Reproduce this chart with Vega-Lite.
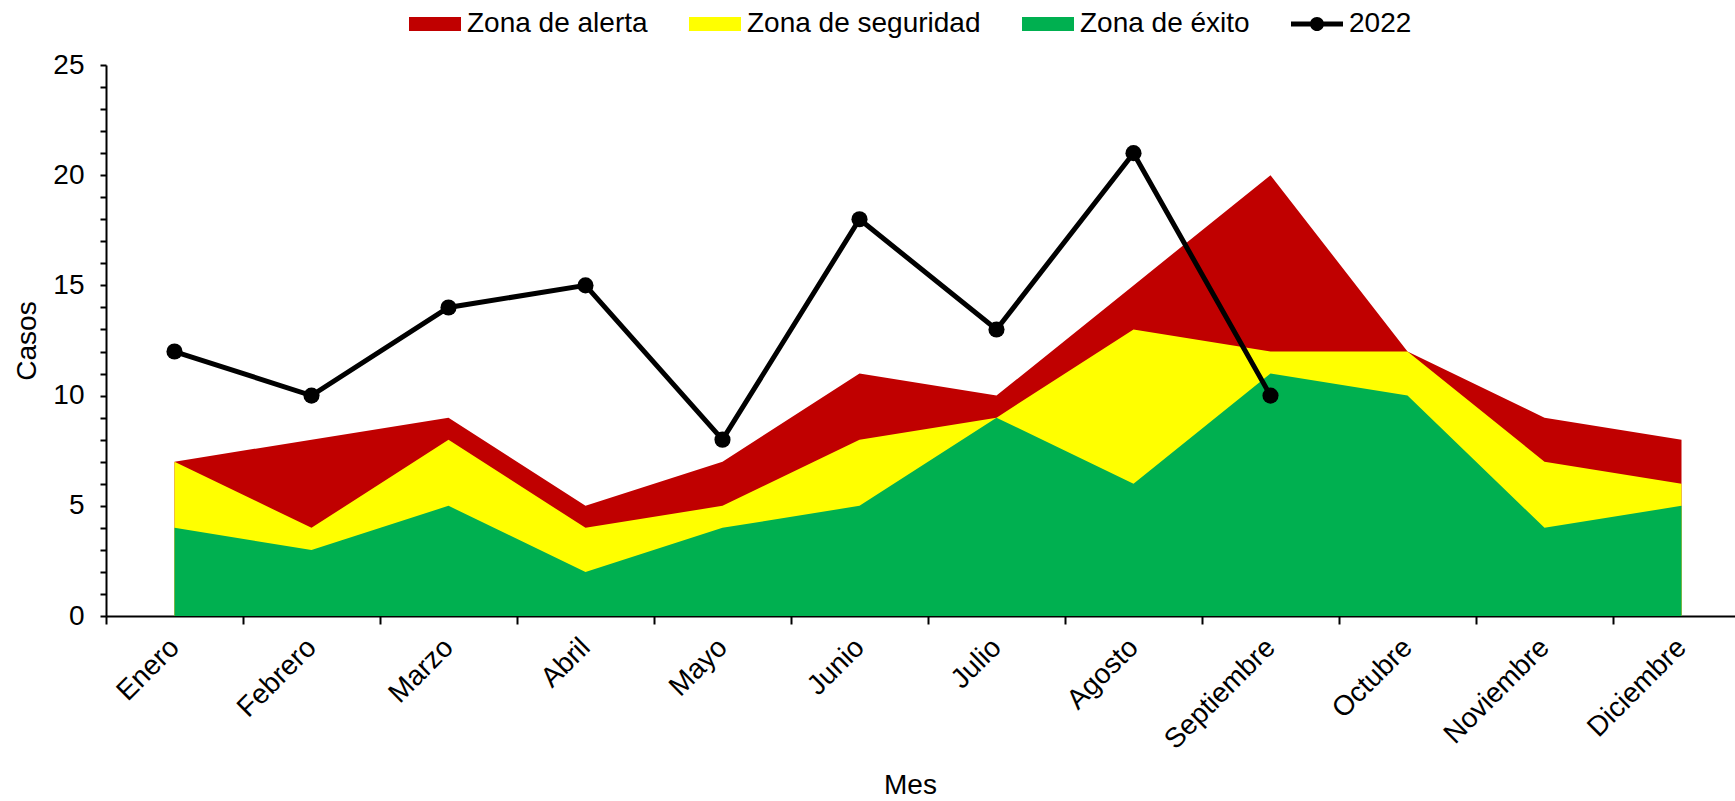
{
  "$schema": "https://vega.github.io/schema/vega-lite/v6.json",
  "width": 1644,
  "height": 551,
  "autosize": {"type": "none"},
  "padding": {"left": 106, "top": 65, "right": 0, "bottom": 185},
  "background": "white",
  "config": {
    "view": {"stroke": null},
    "font": "Liberation Sans",
    "axis": {"grid": false, "domainColor": "#000000", "tickColor": "#000000", "labelColor": "#000000", "titleColor": "#000000", "labelFont": "Liberation Sans", "titleFont": "Liberation Sans", "titleFontWeight": "normal"},
    "axisY": {"labelOverlap": false}
  },
  "data": {
    "values": [
      {"Mes": "Enero", "alerta": 7, "seguridad": 7, "exito": 4, "y2022": 12},
      {"Mes": "Febrero", "alerta": 8, "seguridad": 4, "exito": 3, "y2022": 10},
      {"Mes": "Marzo", "alerta": 9, "seguridad": 8, "exito": 5, "y2022": 14},
      {"Mes": "Abril", "alerta": 5, "seguridad": 4, "exito": 2, "y2022": 15},
      {"Mes": "Mayo", "alerta": 7, "seguridad": 5, "exito": 4, "y2022": 8},
      {"Mes": "Junio", "alerta": 11, "seguridad": 8, "exito": 5, "y2022": 18},
      {"Mes": "Julio", "alerta": 10, "seguridad": 9, "exito": 9, "y2022": 13},
      {"Mes": "Agosto", "alerta": 15, "seguridad": 13, "exito": 6, "y2022": 21},
      {"Mes": "Septiembre", "alerta": 20, "seguridad": 12, "exito": 11, "y2022": 10},
      {"Mes": "Octubre", "alerta": 12, "seguridad": 12, "exito": 10, "y2022": null},
      {"Mes": "Noviembre", "alerta": 9, "seguridad": 7, "exito": 4, "y2022": null},
      {"Mes": "Diciembre", "alerta": 8, "seguridad": 6, "exito": 5, "y2022": null}
    ]
  },
  "encoding": {
    "x": {
      "field": "Mes", "type": "nominal",
      "sort": ["Enero","Febrero","Marzo","Abril","Mayo","Junio","Julio","Agosto","Septiembre","Octubre","Noviembre","Diciembre"],
      "scale": {"type": "band", "paddingInner": 0, "paddingOuter": 0},
      "bandPosition": 0.5,
      "axis": {
        "title": "Mes", "titleFontSize": 28, "titlePadding": 17, "titleX": 804,
        "labelAngle": -45, "labelAlign": "right", "labelBaseline": "middle", "labelFontSize": 28, "labelPadding": 19,
        "tickBand": "extent", "tickSize": 8, "tickWidth": 2, "domainWidth": 2
      }
    }
  },
  "layer": [
    {
      "mark": {"type": "area", "opacity": 1},
      "encoding": {
        "y": {"field": "alerta", "type": "quantitative",
          "scale": {"domain": [0, 25], "nice": false},
          "axis": {
            "title": "Casos", "titleFontSize": 28, "titlePadding": 11,
            "values": [0,1,2,3,4,5,6,7,8,9,10,11,12,13,14,15,16,17,18,19,20,21,22,23,24,25],
            "labelExpr": "datum.value % 5 === 0 ? datum.label : ''", "labelOverlap": false,
            "labelFontSize": 28, "labelPadding": 16, "tickSize": 6, "tickWidth": 2, "domainWidth": 2
          }
        },
        "color": {
          "datum": "Zona de alerta", "type": "nominal",
          "scale": {"domain": ["Zona de alerta", "Zona de seguridad", "Zona de éxito", "2022"], "range": ["#C00000", "#FFFF00", "#00B050", "#000000"]},
          "legend": {
            "title": null, "orient": "none", "legendX": 303, "legendY": -67, "direction": "horizontal", "columns": 4,
            "padding": 0, "symbolSize": 2704, "labelFontSize": 28, "labelFont": "Liberation Sans", "labelColor": "#000000",
            "labelOffset": 6, "columnPadding": 41, "labelLimit": 400,
            "symbolType": {"expr": "datum.value === '2022' ? 'M-1,-0.1H1V0.1H-1Z M-0.27,0A0.27,0.27,0,1,1,0.27,0A0.27,0.27,0,1,1,-0.27,0Z' : 'M-1,-0.27H1V0.27H-1Z'"},
            "symbolOpacity": 1, "symbolStrokeWidth": 0
          }
        }
      }
    },
    {
      "mark": {"type": "area", "opacity": 1},
      "encoding": {
        "y": {"field": "seguridad", "type": "quantitative",
          "axis": {
            "title": "Casos", "titleFontSize": 28, "titlePadding": 11,
            "values": [0,1,2,3,4,5,6,7,8,9,10,11,12,13,14,15,16,17,18,19,20,21,22,23,24,25],
            "labelExpr": "datum.value % 5 === 0 ? datum.label : ''", "labelOverlap": false,
            "labelFontSize": 28, "labelPadding": 16, "tickSize": 6, "tickWidth": 2, "domainWidth": 2
          }
        },
        "color": {"datum": "Zona de seguridad", "type": "nominal"}
      }
    },
    {
      "mark": {"type": "area", "opacity": 1},
      "encoding": {
        "y": {"field": "exito", "type": "quantitative",
          "axis": {
            "title": "Casos", "titleFontSize": 28, "titlePadding": 11,
            "values": [0,1,2,3,4,5,6,7,8,9,10,11,12,13,14,15,16,17,18,19,20,21,22,23,24,25],
            "labelExpr": "datum.value % 5 === 0 ? datum.label : ''", "labelOverlap": false,
            "labelFontSize": 28, "labelPadding": 16, "tickSize": 6, "tickWidth": 2, "domainWidth": 2
          }
        },
        "color": {"datum": "Zona de éxito", "type": "nominal"}
      }
    },
    {
      "mark": {"type": "line", "strokeWidth": 5},
      "encoding": {
        "y": {"field": "y2022", "type": "quantitative",
          "axis": {
            "title": "Casos", "titleFontSize": 28, "titlePadding": 11,
            "values": [0,1,2,3,4,5,6,7,8,9,10,11,12,13,14,15,16,17,18,19,20,21,22,23,24,25],
            "labelExpr": "datum.value % 5 === 0 ? datum.label : ''", "labelOverlap": false,
            "labelFontSize": 28, "labelPadding": 16, "tickSize": 6, "tickWidth": 2, "domainWidth": 2
          }
        },
        "color": {"datum": "2022", "type": "nominal"}
      }
    },
    {
      "mark": {"type": "point", "filled": true, "size": 260, "opacity": 1, "color": "#000000"},
      "encoding": {
        "y": {"field": "y2022", "type": "quantitative",
          "axis": {
            "title": "Casos", "titleFontSize": 28, "titlePadding": 11,
            "values": [0,1,2,3,4,5,6,7,8,9,10,11,12,13,14,15,16,17,18,19,20,21,22,23,24,25],
            "labelExpr": "datum.value % 5 === 0 ? datum.label : ''", "labelOverlap": false,
            "labelFontSize": 28, "labelPadding": 16, "tickSize": 6, "tickWidth": 2, "domainWidth": 2
          }
        }
      }
    }
  ]
}
